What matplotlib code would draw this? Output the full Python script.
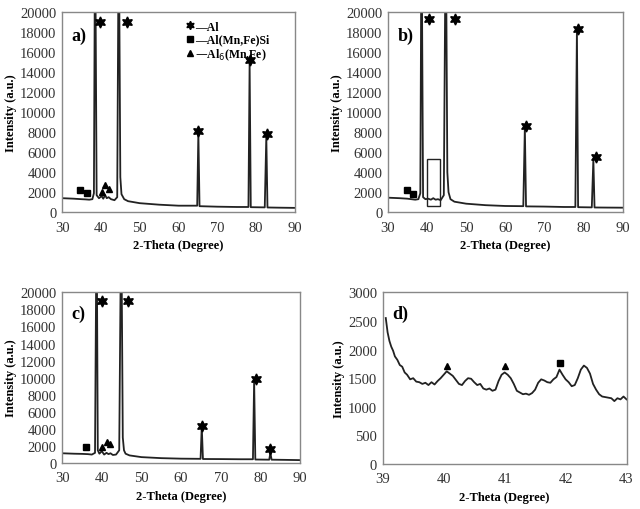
import matplotlib
matplotlib.use("Agg")
import matplotlib.pyplot as plt
from matplotlib.lines import Line2D
from matplotlib.patches import Rectangle

plt.rcParams['font.family'] = ['Liberation Serif', 'DejaVu Serif']

# ---- panel a ----
xa = [30, 33, 35, 36, 37, 37.8, 38.2, 38.5, 38.9, 39.5, 40.2, 40.6, 41.1, 41.5, 42, 42.6, 43.5, 44.2,
      44.6, 45.0, 45.3, 46, 47, 50, 55, 60, 64.8, 65.1, 65.4, 70, 75, 78.0, 78.3, 78.6, 82.2, 82.6, 82.9, 86, 90]
ya = [1400, 1350, 1300, 1280, 1250, 1300, 1900, 30000, 1700, 1400, 1600, 1350, 1700, 1400, 1500, 1300, 1200, 1500,
      30000, 3500, 1800, 1300, 1100, 900, 750, 650, 650, 8000, 600, 550, 520, 520, 15000, 500, 480, 7600, 470, 450, 430]
star_a = [(39.8, 19000), (46.6, 19000), (65.1, 8100), (78.3, 15200), (82.8, 7800)]
sq_a = [(34.5, 2200), (36.4, 1900)]
tri_a = [(40.2, 2000), (41.1, 2700), (42.0, 2300)]

# ---- panel b ----
xb = [30, 33, 35, 36, 37, 37.8, 38.3, 38.6, 39.0, 39.6, 40.3, 41, 41.6, 42.2, 42.8, 43.5, 44.3,
      44.8, 45.2, 45.5, 46, 47, 50, 55, 60, 64.6, 65.0, 65.3, 70, 75, 77.9, 78.3, 78.6, 82.1, 82.5, 82.8, 86, 90]
yb = [1450, 1400, 1350, 1300, 1250, 1300, 1900, 30000, 1500, 1300, 1350, 1250, 1400, 1250, 1300, 1200, 1700,
      30000, 4000, 2000, 1300, 1050, 850, 700, 620, 600, 8500, 580, 560, 520, 520, 18300, 500, 480, 5300, 470, 460, 450]
star_b = [(40.4, 19300), (47.2, 19300), (65.2, 8600), (78.6, 18300), (83.2, 5500)]
sq_b = [(34.8, 2200), (36.3, 1800)]
box_b = (40.0, 600, 3.4, 4700)

# ---- panel c ----
xc = [30, 33, 35, 36.5, 37.5, 38.3, 38.7, 39.0, 39.4, 40.0, 40.6, 41.2, 41.7, 42.2, 42.8, 43.6, 44.4,
      44.9, 45.3, 45.6, 46, 47, 50, 55, 60, 64.9, 65.2, 65.5, 70, 75, 78.1, 78.4, 78.7, 82.2, 82.5, 82.8, 86, 90]
yc = [1150, 1100, 1080, 1050, 1000, 1200, 30000, 1500, 1100, 1400, 1000, 1200, 1050, 1150, 950, 1000, 1500,
      30000, 3000, 1500, 1100, 900, 700, 580, 520, 500, 4300, 480, 470, 450, 450, 9700, 420, 400, 1200, 400, 380, 350]
star_c = [(40.0, 19000), (46.6, 19000), (65.3, 4400), (78.8, 9900), (82.5, 1700)]
sq_c = [(36.0, 1900)]
tri_c = [(40.0, 1900), (41.3, 2500), (42.1, 2200)]

# ---- panel d (zoom of boxed region) ----
xd = [39.05, 39.08, 39.11, 39.14, 39.17, 39.2, 39.24, 39.28, 39.32, 39.36, 39.4, 39.45, 39.5, 39.55,
      39.6, 39.65, 39.7, 39.75, 39.8, 39.85, 39.9, 39.95, 40.0, 40.05, 40.1, 40.15, 40.2, 40.25, 40.3,
      40.35, 40.4, 40.45, 40.5, 40.55, 40.6, 40.65, 40.7, 40.75, 40.8, 40.85, 40.9, 40.95, 41.0, 41.05,
      41.1, 41.15, 41.2, 41.25, 41.3, 41.35, 41.4, 41.45, 41.5, 41.55, 41.6, 41.65, 41.7, 41.75, 41.8,
      41.85, 41.9, 41.95, 42.0, 42.05, 42.1, 42.15, 42.2, 42.25, 42.3, 42.35, 42.4, 42.45, 42.5, 42.55,
      42.6, 42.65, 42.7, 42.75, 42.8, 42.85, 42.9, 42.95, 43.0]
yd = [2550, 2300, 2150, 2050, 1980, 1880, 1820, 1730, 1700, 1600, 1560, 1480, 1500, 1440, 1430, 1400,
      1420, 1380, 1430, 1390, 1450, 1500, 1560, 1620, 1580, 1540, 1470, 1400, 1380, 1450, 1500, 1490,
      1430, 1380, 1400, 1320, 1300, 1320, 1280, 1300, 1450, 1560, 1600, 1560, 1500, 1400, 1280, 1250,
      1220, 1230, 1210, 1240, 1300, 1420, 1480, 1460, 1430, 1420, 1480, 1520, 1650, 1560, 1480, 1430,
      1360, 1380, 1500, 1650, 1720, 1680, 1580, 1400, 1300, 1220, 1180, 1170, 1160, 1150, 1100, 1150,
      1130, 1180, 1130]
tri_d = [(40.05, 1720), (41.0, 1720)]
sq_d = [(41.9, 1760)]

line_col = '#222222'
spine_col = '#888888'
star_m = (6, 1, 0)

fig = plt.figure(figsize=(6.4, 5.1), dpi=100)

def style(ax, xlim, ylim, xticks, yticks, tag):
    ax.set_xlim(*xlim)
    ax.set_ylim(*ylim)
    ax.set_xticks(xticks)
    ax.set_yticks(yticks)
    ax.tick_params(length=0, labelsize=10.5, colors='#333333')
    ax.tick_params(axis='x', pad=6)
    ax.tick_params(axis='y', pad=4)
    for s in ax.spines.values():
        s.set_color(spine_col)
        s.set_linewidth(1.0)
    ax.set_xlabel('2-Theta (Degree)', fontsize=9, fontweight='bold', labelpad=4)
    ax.set_ylabel('Intensity (a.u.)', fontsize=9, fontweight='bold', labelpad=2)
    ax.text(0.04, 0.93, tag, transform=ax.transAxes, fontsize=13, fontweight='bold', va='top')

def marks(ax, pts, m, s):
    ax.plot([p[0] for p in pts], [p[1] for p in pts], linestyle='none', marker=m,
            markersize=s, color='black')

big_x = [30, 40, 50, 60, 70, 80, 90]
big_y = list(range(0, 20001, 2000))

ax_a = fig.add_axes([0.097, 0.582, 0.364, 0.392])
ax_a.plot(xa, ya, color=line_col, lw=1.3)
marks(ax_a, star_a, star_m, 8)
marks(ax_a, sq_a, 's', 5)
marks(ax_a, tri_a, '^', 5)
style(ax_a, (30, 90), (0, 20000), big_x, big_y, 'a)')
handles = [Line2D([], [], marker=star_m, color='black', linestyle='none', markersize=6),
           Line2D([], [], marker='s', color='black', linestyle='none', markersize=4),
           Line2D([], [], marker='^', color='black', linestyle='none', markersize=4)]
ax_a.legend(handles, ['\u2014Al', '\u2014Al(Mn,Fe)Si', '\u2014Al$_6$(Mn,Fe)'], loc='upper left',
            bbox_to_anchor=(0.5, 1.0), frameon=False, handlelength=0.6, handletextpad=0.1,
            labelspacing=0.1, borderaxespad=0.3, prop={'size': 8.5, 'weight': 'bold'})

ax_b = fig.add_axes([0.606, 0.582, 0.367, 0.392])
ax_b.plot(xb, yb, color=line_col, lw=1.3)
marks(ax_b, star_b, star_m, 8)
marks(ax_b, sq_b, 's', 5)
ax_b.add_patch(Rectangle(box_b[:2], box_b[2], box_b[3], fill=False, edgecolor=line_col, lw=1.0))
style(ax_b, (30, 90), (0, 20000), big_x, big_y, 'b)')

ax_c = fig.add_axes([0.097, 0.090, 0.372, 0.335])
ax_c.plot(xc, yc, color=line_col, lw=1.3)
marks(ax_c, star_c, star_m, 8)
marks(ax_c, sq_c, 's', 5)
marks(ax_c, tri_c, '^', 5)
style(ax_c, (30, 90), (0, 20000), big_x, big_y, 'c)')

ax_d = fig.add_axes([0.598, 0.088, 0.381, 0.337])
ax_d.plot(xd, yd, color=line_col, lw=1.3)
marks(ax_d, tri_d, '^', 5)
marks(ax_d, sq_d, 's', 5)
style(ax_d, (39, 43), (0, 3000), [39, 40, 41, 42, 43], list(range(0, 3001, 500)), 'd)')

fig.savefig('out.png', dpi=100)
